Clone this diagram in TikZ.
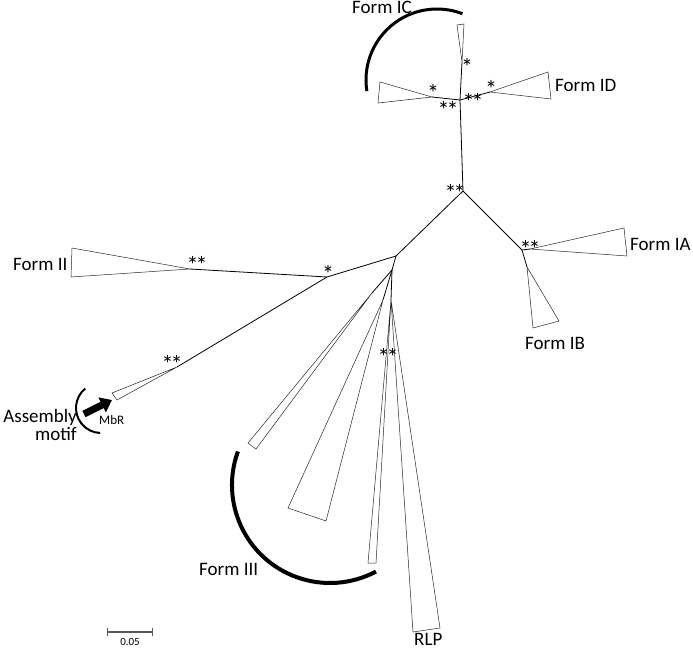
\documentclass[tikz,border=0pt]{standalone}
\usepackage{fontspec}
\setmainfont{Carlito}
\usetikzlibrary{arrows.meta,calc}
\newcommand{\dstar}{*\kern-3pt*}

\begin{document}
\begin{tikzpicture}[x=1pt,y=-1pt,
  formlabel/.style={font=\fontsize{19}{19}\selectfont,inner sep=0pt},
  sig/.style={font=\fontsize{24}{24}\selectfont,inner sep=0pt,anchor=base,yshift=-10pt},
  branch/.style={line width=0.8pt},
  clade/.style={line width=0.5pt,draw=black!85,line join=miter},
  bracket/.style={line width=3pt}]
\useasboundingbox (0,0) rectangle (693,650);
\coordinate (j1) at (460,100);
\coordinate (j2) at (463,191);
\coordinate (j3) at (396,256);
\coordinate (j4) at (522,250);
\coordinate (j5) at (392,270);
\coordinate (j6) at (391,300);
\coordinate (n2) at (327,277);
\coordinate (ic) at (432,97);
\coordinate (up) at (462,62);
\coordinate (id) at (490,92);
\coordinate (ia) at (530,249);
\coordinate (ib) at (527,267);
\coordinate (ii) at (190,269);
\coordinate (mb) at (177,367);
\coordinate (w1) at (372,293);
\coordinate (w2) at (383,300);
\path[branch]
(j1) edge (ic)
(j1) edge (up)
(j1) edge (id)
(j1) edge (j2)
(j2) edge (j3)
(j2) edge (j4)
(j4) edge (ia)
(j4) edge (ib)
(j3) edge (n2)
(j3) edge (j5)
(n2) edge (ii)
(n2) edge (mb)
(j5) edge (w1)
(j5) edge (w2)
(j5) edge (j6)
;
\draw[clade] (ic) -- (380,82) -- (378,103) -- cycle;
\draw[clade] (up) -- (457,25) -- (464,24) -- cycle;
\draw[clade] (id) -- (548,72) -- (551,99) -- cycle;
\draw[clade] (ia) -- (624,228) -- (627,256) -- cycle;
\draw[clade] (ib) -- (533,328) -- (559,321) -- cycle;
\draw[clade] (ii) -- (72,248) -- (71,277) -- cycle;
\draw[clade] (mb) -- (112,393) -- (117,400) -- cycle;
\draw[clade] (w1) -- (248,443) -- (256,449) -- cycle;
\draw[clade] (w2) -- (288,508) -- (326,521) -- cycle;
\draw[clade] (j6) -- (368,563) -- (376,563) -- cycle;
\draw[clade] (j6) -- (413,632) -- (440,628) -- cycle;
\coordinate (icc) at (437,80);
\coordinate (mbc) at (101,408);
\coordinate (iiic) at (330,485);
\draw[bracket] (icc) ++(-189:71) arc[start angle=-189,end angle=-69,radius=71];
\draw[line width=2pt] (mbc) ++(-129:25) arc[start angle=-129,end angle=-268,radius=25];
\draw[bracket,line width=4pt] (iiic) ++(-160:98) arc[start angle=-160,end angle=-298,radius=98];
\coordinate (mbrtail) at (84,414);
\coordinate (mbrtip) at (112,400);
\draw[line width=7pt,-{Triangle[length=11pt,width=16pt]}] (mbrtail) -- (mbrtip);
\node[formlabel,anchor=base west] (lic) at (352,13.5) {Form IC};
\node[formlabel,anchor=base west] (lid) at (555,92) {Form ID};
\node[formlabel,anchor=base west] (lia) at (630,250) {Form IA};
\node[formlabel,anchor=base west] (lib) at (525,349) {Form IB};
\node[formlabel,anchor=base west] (lii) at (13,270) {Form II};
\node[formlabel,anchor=base west] (liii) at (199,575) {Form III};
\node[formlabel,anchor=base west] (lrlp) at (414,645.5) {RLP};
\node[formlabel,anchor=base east] (lasm) at (77,422) {Assembly};
\node[formlabel,anchor=base east] (lmot) at (77,440) {motif};
\node[font=\fontsize{13}{13}\selectfont,inner sep=0pt,anchor=base west] (lmbr) at (99,424) {MbR};
\node[sig] (s1) at (467,66) {*};
\node[sig] (s2) at (433,92) {*};
\node[sig] (s3) at (448,108) {\dstar};
\node[sig] (s4) at (491,88) {*};
\node[sig] (s5) at (473,101) {\dstar};
\node[sig] (s6) at (455,191) {\dstar};
\node[sig] (s7) at (530,247) {\dstar};
\node[sig] (s8) at (197,263) {\dstar};
\node[sig] (s9) at (328,272) {*};
\node[sig] (s10) at (172,362) {\dstar};
\node[sig] (s11) at (388,355) {\dstar};
\coordinate (sbl) at (107,632);
\coordinate (sbr) at (152,632);
\draw[line width=1.2pt,black!65] (sbl) -- (sbr);
\draw[line width=1pt,black!65] ($(sbl)+(0,-4)$) -- ($(sbl)+(0,4)$) ($(sbr)+(0,-4)$) -- ($(sbr)+(0,4)$);
\node[font=\fontsize{11}{11}\selectfont,inner sep=0pt,anchor=base] (lsb) at (130,645) {0.05};
\end{tikzpicture}
\end{document}
